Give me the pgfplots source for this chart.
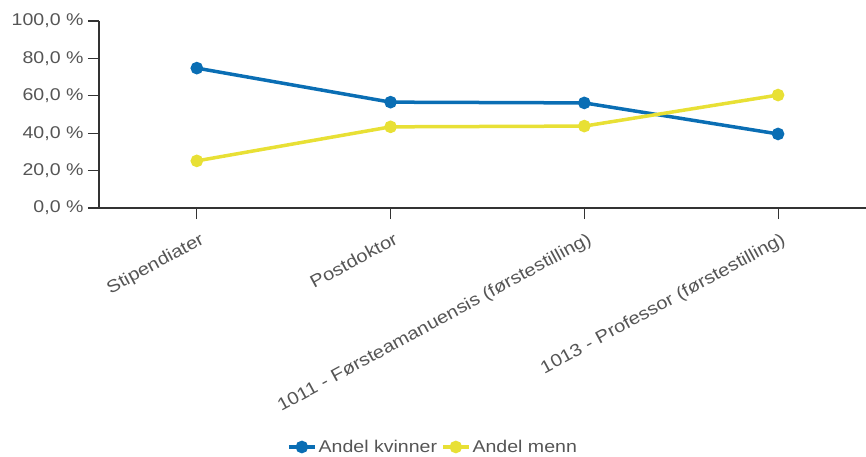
\documentclass[border=0pt]{standalone}
\usepackage{fontspec}
\setmainfont{Liberation Sans}[FakeStretch=1.15]
\usepackage{pgfplots}
\pgfplotsset{compat=1.18}
\definecolor{kblue}{HTML}{0A6EB4}
\definecolor{myellow}{HTML}{E8E035}
\definecolor{txt}{HTML}{555555}
\definecolor{axc}{HTML}{333333}
\begin{document}
\begin{tikzpicture}
\begin{axis}[
  at={(0,0)}, anchor=south west,
  scale only axis, width=767pt, height=187pt,
  xmin=-0.505, xmax=3.454, ymin=0, ymax=100,
  axis lines*=left,
  axis line style={axc, line width=1.3pt},
  xtick={0,1,2,3},
  xticklabels={Stipendiater, Postdoktor, 1011 - Førsteamanuensis (førstestilling), 1013 - Professor (førstestilling)},
  ytick={0,20,40,60,80,100},
  tick align=outside, major tick length=11pt,
  tick style={axc, line width=1.1pt},
  tick label style={txt, font=\fontsize{17}{20}\selectfont},
  yticklabel style={xshift=-1pt},
  xticklabel style={rotate=28.5, anchor=north east, inner sep=2pt, xshift=-2pt, yshift=-10pt, font=\fontsize{17.5}{20}\selectfont},
  /pgf/number format/assume math mode=true,
  yticklabel={\pgfmathprintnumber[fixed,fixed zerofill,precision=1,use comma,1000 sep={}]{\tick}\ \%},
  legend columns=2,
  legend style={draw=none, fill=none, at={(0.4355,-1.278)}, anchor=center,
    font=\fontsize{17}{20}\selectfont, text=txt, inner sep=0pt,
    /tikz/every even column/.append style={column sep=2pt}},
  legend image code/.code={\draw[#1, mark repeat=2, mark phase=2] plot coordinates {(0pt,0pt)(13pt,0pt)(26pt,0pt)};},
  clip=false,
]
\addplot[kblue, line width=3.5pt, mark=*, mark size=4.5pt] coordinates {(0,74.8) (1,56.6) (2,56.2) (3,39.6)};
\addlegendentry{Andel kvinner}
\addplot[myellow, line width=3.5pt, mark=*, mark size=4.5pt] coordinates {(0,25.2) (1,43.4) (2,43.8) (3,60.4)};
\addlegendentry{Andel menn}
\end{axis}
\pgfresetboundingbox
\path[use as bounding box] (-99pt,-249pt) rectangle (767pt,208pt);
\end{tikzpicture}
\end{document}
